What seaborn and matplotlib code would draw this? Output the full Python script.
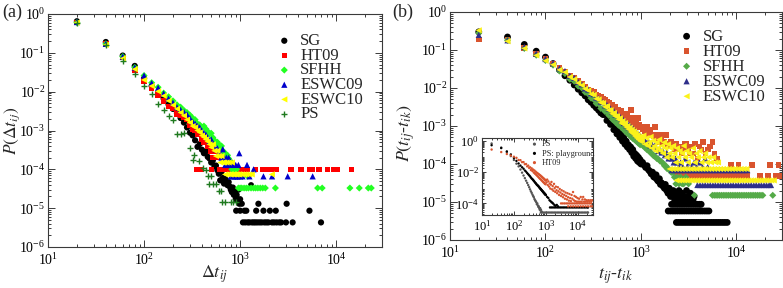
import matplotlib
matplotlib.use("Agg")
import matplotlib.pyplot as plt
import seaborn as sns
import pandas as pd
from matplotlib.ticker import LogLocator, NullFormatter, FixedLocator

nan = float("nan")

# ---------------- shared 20 s bin grid ----------------
G = [20, 40, 60, 80, 100, 120, 140, 160, 180, 200,
     220, 240, 260, 280, 300, 320, 340, 360, 380, 400,
     420, 440, 460, 480, 500, 520, 540, 560, 580, 600,
     620, 640, 660, 680, 700, 720, 740, 760, 780, 800,
     820, 840, 860, 880, 900, 920, 940, 960, 980, 1000]

# ---------------- panel (a): P(dt_ij) ----------------
a_sg_y = [0.65, 0.19, 0.085, 0.046, 0.022, 0.014, 0.0095, 0.0066, 0.0047, 0.0036,
          0.0028, 0.0021, 0.0016, 0.0012, 8.8e-4, 7.5e-4, 5.6e-4, 3.8e-4, 4.5e-4, 3.2e-4,
          2.6e-4, 2.9e-4, 2.1e-4, 1.9e-4, 1.5e-4, 1.7e-4, 1.2e-4, 1.25e-4, 9.5e-5, 7.7e-5,
          5.2e-5, 8.6e-5, 6.0e-5, 4.3e-5, 5.6e-5, 5.1e-5, 3.9e-5, 4.7e-5, 3.6e-5, 3.0e-5,
          2.6e-5, 3.4e-5, 2.2e-5, 2.6e-5, 1.7e-5, 2.2e-5, 1.7e-5, 3.0e-5, 1.3e-5, 1.7e-5]
a_sg_tail_x = [910, 1000, 1040, 1070, 1110, 1130, 1160, 1200, 1250, 1300, 1330, 1390,
               1450, 1470, 1520, 1550, 1600, 1680, 1750, 1790, 1880, 1970, 2040, 2150,
               2260, 2350, 2400, 2560, 2670, 3000, 3050, 3520, 5270, 6950]
a_sg_tail_y = [8.6e-6, 8.6e-6, 1.3e-5, 4.3e-6, 8.6e-6, 4.3e-6, 8.6e-6, 4.3e-6, 4.3e-6, 3.9e-5,
               4.3e-6, 4.3e-6, 4.3e-6, 8.6e-6, 4.3e-6, 1.3e-5, 4.3e-6, 4.3e-6, 8.6e-6, 4.3e-6,
               4.3e-6, 4.3e-6, 8.6e-6, 4.3e-6, 4.3e-6, 8.6e-6, 4.3e-6, 4.3e-6, 4.3e-6, 4.3e-6,
               1.3e-5, 4.3e-6, 8.6e-6, 4.3e-6]

a_ht_y = [0.60, 0.17, 0.075, 0.036, 0.019, 0.012, 0.0082, 0.0058, 0.0042, 0.0037,
          0.0027, 0.0025, 0.0022, 0.0020, 0.0014, 0.0011, 0.0010, 8e-4, 9e-4, 6e-4,
          5e-4, 6e-4, 4e-4, 4e-4, 3e-4, 2e-4, 3e-4, 2e-4, 3e-4, 2e-4,
          2e-4, 1e-4, 2e-4, 2e-4, 1e-4, nan, 2e-4, 1e-4, nan, 1e-4,
          nan, 1e-4, nan, nan, 1e-4, nan, nan, 1e-4, nan, nan]
a_ht_tail_x = [355, 395, 505, 610, 690, 990, 1020, 1160, 1200, 1440, 1720, 1850,
               2000, 2170, 2370, 3390, 4300, 5250, 5600, 6670, 8140, 9550, 10350, 14460]
a_ht_tail_y = [1e-4, 1e-4, 1e-4, 1e-4, 1e-4, 1e-4, 1e-4, 1e-4, 1e-4, 1e-4, 1e-4, 1e-4,
               1e-4, 1e-4, 1e-4, 1e-4, 1e-4, 1e-4, 1e-4, 1e-4, 1e-4, 1e-4, 1e-4, 1e-4]

a_sf_y = [0.60, 0.17, 0.080, 0.042, 0.026, 0.017, 0.013, 0.0092, 0.0074, 0.0058,
          0.0046, 0.0040, 0.0033, 0.0029, 0.0025, 0.0021, 0.0019, 0.0015, 0.0014, 0.0012,
          0.0013, 0.0011, 9.5e-4, 8.2e-4, 8.5e-4, 6.6e-4, 5.6e-4, 4.7e-4, 5.0e-4, 4.4e-4,
          3.6e-4, 4.0e-4, 3.0e-4, 2.6e-4, 2.6e-4, 2.0e-4, 2.3e-4, 1.9e-4, 1.7e-4, 1.3e-4,
          1.0e-4, 1.3e-4, 9.9e-5, 1.0e-4, 6.6e-5, 1.0e-4, 6.6e-5, 3.3e-5, 6.6e-5, 3.3e-5]
a_sf_tail_x = [1040, 1060, 1100, 1160, 1200, 1220, 1300, 1380, 1450, 1530, 1620, 1720,
               1830, 2330, 6410, 7150, 13900, 17400, 21600, 23200]
a_sf_tail_y = [3.3e-5, 6.6e-5, 3.3e-5, 3.3e-5, 6.6e-5, 3.3e-5, 3.3e-5, 3.3e-5, 3.3e-5, 3.3e-5,
               3.3e-5, 3.3e-5, 3.3e-5, 3.3e-5, 3.3e-5, 3.3e-5, 3.3e-5, 3.3e-5, 3.3e-5, 3.3e-5]

a_e9_y = [0.62, 0.17, 0.080, 0.042, 0.026, 0.0166, 0.0126, 0.0090, 0.0066, 0.0052,
          0.0040, 0.0034, 0.0030, 0.0026, 0.0021, 0.0017, 0.0015, 0.0013, 0.0012, 9.9e-4,
          8.6e-4, 7.9e-4, 6.6e-4, 5.3e-4, 5.9e-4, 4.6e-4, 4.0e-4, 3.3e-4, 3.5e-4, 2.6e-4,
          2.6e-4, 2.0e-4, 3.3e-4, 2.0e-4, 1.3e-4, 2.0e-4, 1.3e-4, 2.0e-4, 1.3e-4, 6.6e-5,
          1.3e-4, 6.6e-5, 1.3e-4, 6.6e-5, 1.3e-4, 6.6e-5, 6.6e-5, 1.3e-4, 2.6e-4, 6.6e-5]
a_e9_tail_x = [1060, 1180, 1250, 1380, 1750, 2150, 3130, 5690]
a_e9_tail_y = [6.6e-5, 1.3e-4, 6.6e-5, 1.0e-4, 6.6e-5, 6.6e-5, 6.6e-5, 6.6e-5]

a_e10_y = [0.60, 0.16, 0.072, 0.038, 0.020, 0.014, 0.0102, 0.0078, 0.0058, 0.0045,
           0.0036, 0.0029, 0.0024, 0.0019, 0.0016, 0.0013, 0.0012, 0.0010, 8.9e-4, 7.4e-4,
           6.7e-4, 5.9e-4, 5.2e-4, 4.4e-4, 3.7e-4, 4.4e-4, 3.0e-4, 2.2e-4, 3.0e-4, 2.2e-4,
           1.5e-4, 2.2e-4, 1.5e-4, 1.5e-4, 7.4e-5, 1.5e-4, 7.4e-5, 1.5e-4, 7.4e-5, 7.4e-5,
           1.5e-4, 7.4e-5, 7.4e-5, nan, 7.4e-5, 7.4e-5, nan, 7.4e-5, 7.4e-5, nan]
a_e10_tail_x = [1040, 1100, 1160, 1240, 1320, 2140]
a_e10_tail_y = [7.4e-5, 7.4e-5, 7.4e-5, 7.4e-5, 7.4e-5, 7.4e-5]

a_ps_x = [20, 40, 60, 80, 100, 120, 140, 160, 180, 200, 220, 240, 260, 300, 320, 330,
          370, 410, 440, 460, 480, 500, 520, 560, 600, 640, 650, 700, 800, 850, 910]
a_ps_y = [0.58, 0.16, 0.060, 0.028, 0.014, 0.0087, 0.0048, 0.0033, 0.0023, 0.0019,
          8.0e-4, 8.0e-4, 8.7e-4, 3.6e-4, 1.7e-4, 2.4e-4, 1.6e-4, 1.07e-4, 9.5e-5, 6.8e-5,
          4.2e-5, 6.8e-5, 4.2e-5, 4.2e-5, 2.8e-5, 2.8e-5, 1.4e-5, 1.4e-5, 1.4e-5, 1.4e-5, 1.4e-5]

# ---------------- panel (b): P(t_ij - t_ik) ----------------
b_sg_y = [0.30, 0.22, 0.14, 0.093, 0.065, 0.044, 0.030, 0.021, 0.016, 0.012,
          0.0093, 0.0075, 0.0062, 0.0049, 0.0042, 0.0035, 0.0030, 0.0026, 0.0022, 0.0020,
          0.0020, 0.0014, 0.0015, 0.0011, 0.0012, 8.0e-4, 9.5e-4, 6.2e-4, 7.4e-4, 5.0e-4,
          6.0e-4, 4.0e-4, 4.9e-4, 3.3e-4, 4.0e-4, 2.8e-4, 3.2e-4, 2.4e-4, 2.8e-4, 2.0e-4,
          2.4e-4, 1.6e-4, 1.9e-4, 1.4e-4, 1.7e-4, 1.2e-4, 1.5e-4, 1.1e-4, 1.3e-4, 1.0e-4]
b_sg_tail_x = [1040, 1080, 1120, 1160, 1200, 1240, 1280, 1320, 1360, 1400, 1440, 1480,
               1520, 1560, 1600, 1640, 1700, 1760, 1800, 1860, 1920, 1980, 2040, 2100,
               2180, 2250, 2320, 2400, 2500, 2600, 2700, 2850, 3000, 3150, 3300, 3600]
b_sg_tail_y = [1.1e-4, 9.3e-5, 8.1e-5, 9.0e-5, 7.0e-5, 6.4e-5, 5.5e-5, 6.1e-5, 4.6e-5, 4.4e-5,
               5.2e-5, 3.8e-5, 3.5e-5, 4.1e-5, 2.9e-5, 3.2e-5, 2.6e-5, 2.3e-5, 2.9e-5, 2.0e-5,
               1.7e-5, 2.3e-5, 1.4e-5, 1.7e-5, 2.0e-5, 1.4e-5, 1.7e-5, 1.4e-5, 2.0e-5, 1.4e-5,
               1.7e-5, 1.4e-5, 2.0e-5, 1.4e-5, 1.7e-5, 1.4e-5]
b_sg_levels = [2.9e-6, 5.8e-6, 8.7e-6, 1.16e-5]
b_sg_level_x = [
    [2350, 2480, 2620, 2760, 2910, 3070, 3240, 3420, 3600, 3800, 4000, 4220, 4450, 4700,
     4950, 5220, 5500, 5800, 6120, 6450, 6800, 7180, 7570, 8000],
    [1930, 2040, 2160, 2280, 2410, 2550, 2690, 2840, 3000, 3170, 3350, 3540, 3740, 3950,
     4170, 4400, 4650, 4900, 5150],
    [2090, 2210, 2340, 2470, 2610, 2760, 2920, 3090, 3270, 3460, 3660, 3870, 4090, 4270],
    [2250, 2400, 2560, 2730, 2910, 3100, 3300, 3520]]

b_ht_y = [0.19, 0.18, 0.115, 0.078, 0.057, 0.043, 0.033, 0.027, 0.021, 0.018,
          0.015, 0.0125, 0.011, 0.0092, 0.0085, 0.0078, 0.0068, 0.0062, 0.0060, 0.0052,
          0.0048, 0.0043, 0.0041, 0.0036, 0.0035, 0.0030, 0.0032, 0.0027, 0.0026, 0.0024,
          0.0025, 0.0021, 0.0019, 0.0021, 0.0017, 0.0018, 0.0016, 0.0015, 0.0026, 0.0013,
          0.0016, 0.0013, 0.0014, 0.0011, 0.0012, 0.0010, 0.0016, 0.0011, 9.1e-4, 9.6e-4]
b_ht_tail_x = [1050, 1100, 1150, 1200, 1250, 1300, 1350, 1400, 1450, 1500, 1560, 1620,
               1680, 1750, 1820, 1900, 1980, 2060, 2150, 2240, 2330, 2430, 2540, 2650,
               2760, 2880, 2980, 3100, 3250, 3400, 3550, 3700, 3900, 4100, 4300, 4500,
               4750, 5000, 5300, 5600, 5900, 6300]
b_ht_tail_y = [8.2e-4, 7.2e-4, 9.6e-4, 6.2e-4, 7.7e-4, 5.8e-4, 5.3e-4, 9.6e-4, 4.8e-4, 5.8e-4,
               3.8e-4, 4.8e-4, 5.8e-4, 3.8e-4, 5.8e-4, 3.4e-4, 2.9e-4, 3.8e-4, 2.9e-4, 2.4e-4,
               3.4e-4, 2.4e-4, 2.9e-4, 1.9e-4, 2.4e-4, 3.4e-4, 3.4e-4, 2.4e-4, 1.9e-4, 2.9e-4,
               1.9e-4, 3.4e-4, 1.4e-4, 2.9e-4, 2.4e-4, 3.8e-4, 1.9e-4, 2.4e-4, 2.9e-4, 3.8e-4,
               1.9e-4, 1.4e-4]
b_ht_levels = [4.8e-5, 9.6e-5]
b_ht_level_x = [
    [2350, 2500, 2660, 2830, 3010, 3200, 3400, 3620, 3850, 4100, 4360, 4640, 4930, 5250,
     5580, 5940, 6320, 6720, 7150, 7600, 8090, 8600, 9150, 9730, 10350, 11000, 11700,
     12450, 13000, 17700, 21300, 26000, 29000],
    [8700, 10500, 14500, 22400, 27500]]

b_sf_y = [0.28, 0.18, 0.11, 0.073, 0.053, 0.040, 0.028, 0.024, 0.017, 0.0150,
          0.0112, 0.0100, 0.0077, 0.0070, 0.0054, 0.0050, 0.0039, 0.0038, 0.0029, 0.0029,
          0.0024, 0.0023, 0.0019, 0.0019, 0.0015, 0.0016, 0.00125, 0.00125, 0.00105, 0.0011,
          9.2e-4, 9.4e-4, 7.9e-4, 8.2e-4, 6.8e-4, 7.2e-4, 6.0e-4, 6.4e-4, 5.3e-4, 5.7e-4,
          4.7e-4, 5.0e-4, 4.3e-4, 4.5e-4, 3.9e-4, 4.0e-4, 3.5e-4, 3.7e-4, 3.2e-4, 3.4e-4]
b_sf_tail_x = [1050, 1100, 1150, 1200, 1250, 1300, 1350, 1400, 1460, 1520, 1580, 1640,
               1700, 1760, 1820, 1880, 1940, 2000, 2080, 2160, 2240, 2320, 2400, 2500,
               2600, 2700, 2800, 2950, 3150, 3630]
b_sf_tail_y = [3.0e-4, 2.7e-4, 2.4e-4, 2.3e-4, 2.0e-4, 1.9e-4, 1.65e-4, 1.6e-4, 1.4e-4, 1.35e-4,
               1.2e-4, 1.15e-4, 1.05e-4, 9.0e-5, 9.0e-5, 7.5e-5, 7.5e-5, 7.0e-5, 6.0e-5, 6.0e-5,
               4.5e-5, 3.0e-5, 4.5e-5, 3.0e-5, 4.5e-5, 3.0e-5, 3.0e-5, 4.5e-5, 3.0e-5, 1.5e-5]
b_sf_levels = [1.5e-5]
b_sf_level_x = [
    [5600, 5850, 6110, 6380, 6660, 6960, 7270, 7590, 7930, 8280, 8650, 9030, 9430, 9850,
     10290, 10740, 11220, 11720, 12240, 12780, 13350, 13940, 14560, 15200, 15880, 16580,
     17320, 18090, 18890, 24000]]

b_e9_y = [0.25, 0.18, 0.12, 0.080, 0.058, 0.045, 0.033, 0.028, 0.021, 0.0185,
          0.0145, 0.0125, 0.0098, 0.0091, 0.0073, 0.0069, 0.0056, 0.0054, 0.0044, 0.0043,
          0.0035, 0.0036, 0.0029, 0.0029, 0.0024, 0.0025, 0.0020, 0.0021, 0.0017, 0.0018,
          0.0014, 0.0016, 0.0012, 0.0013, 0.00105, 0.0012, 9.3e-4, 1.05e-3, 8.2e-4, 9.2e-4,
          7.3e-4, 8.3e-4, 6.5e-4, 7.2e-4, 5.8e-4, 6.4e-4, 5.2e-4, 5.9e-4, 4.6e-4, 5.3e-4]
b_e9_tail_x = [1050, 1100, 1150, 1200, 1250, 1300, 1350, 1400, 1460, 1520, 1580, 1640,
               1700, 1780, 1860, 1940, 2020, 2100, 2200, 2300, 2400, 2500, 2600, 2750,
               2900, 3050, 3200, 3400, 3600, 3800, 4100, 4400, 4700, 5000]
b_e9_tail_y = [4.5e-4, 4.2e-4, 3.6e-4, 3.9e-4, 3.1e-4, 3.4e-4, 2.8e-4, 3.1e-4, 2.5e-4, 2.2e-4,
               2.5e-4, 2.0e-4, 2.2e-4, 1.7e-4, 2.0e-4, 1.4e-4, 1.7e-4, 1.4e-4, 1.1e-4, 1.4e-4,
               1.1e-4, 8.4e-5, 1.1e-4, 8.4e-5, 1.4e-4, 8.4e-5, 1.1e-4, 8.4e-5, 1.1e-4, 8.4e-5,
               1.1e-4, 8.4e-5, 1.4e-4, 8.4e-5]
b_e9_levels = [2.8e-5, 6.9e-5]
b_e9_level_x = [
    [3900, 4150, 4420, 4700, 5000, 5320, 5660, 6020, 6400, 6810, 7240, 7700, 8190, 8710,
     9260, 9850, 10480, 11150, 11860, 12610, 13410, 14260, 15170, 16130, 17160, 18250,
     19410, 20650, 21960, 23000],
    [2100, 2250, 2400, 2560, 2730, 2920, 3110, 3320, 3540, 3780, 4030, 4300, 4590, 4900,
     5230, 5580, 5950, 6350, 6780, 7230, 7720, 8240, 8790, 9380, 10010, 10680, 11400,
     12170, 13000]]

b_e10_y = [0.33, 0.17, 0.11, 0.072, 0.052, 0.041, 0.030, 0.026, 0.0195, 0.017,
           0.0135, 0.0118, 0.0095, 0.0086, 0.0069, 0.0066, 0.0052, 0.0050, 0.0041, 0.0040,
           0.0032, 0.0033, 0.0026, 0.0026, 0.0021, 0.0022, 0.0018, 0.0018, 0.0015, 0.0016,
           0.0012, 0.00135, 0.0011, 0.0012, 9.4e-4, 1.0e-3, 8.2e-4, 9.0e-4, 7.0e-4, 8.0e-4,
           6.3e-4, 7.2e-4, 5.5e-4, 6.4e-4, 4.9e-4, 5.7e-4, 4.4e-4, 5.2e-4, 4.0e-4, 4.8e-4]
b_e10_tail_x = [1020, 1060, 1100, 1140, 1180, 1220, 1260, 1300, 1340, 1380, 1420, 1460,
                1500, 1550, 1600, 1650, 1700, 1750, 1800, 1860, 1920, 1980, 2040, 2100,
                2170, 2240, 2310, 2380, 2460, 2540, 2620, 2700, 2800, 2900, 3000, 3100,
                3200, 3350, 3500, 3650, 3800, 3950, 4100, 4300, 4500, 4700, 4900, 5100,
                5400, 5700, 6000, 6400]
b_e10_tail_y = [4.1e-4, 5.6e-4, 3.3e-4, 4.8e-4, 3.0e-4, 3.7e-4, 5.2e-4, 2.6e-4, 4.1e-4, 3.0e-4,
                2.2e-4, 3.7e-4, 2.6e-4, 4.4e-4, 2.2e-4, 3.0e-4, 1.9e-4, 3.7e-4, 2.6e-4, 1.5e-4,
                3.3e-4, 1.9e-4, 2.6e-4, 1.5e-4, 3.0e-4, 1.9e-4, 1.1e-4, 2.6e-4, 1.5e-4, 2.2e-4,
                1.1e-4, 1.9e-4, 3.0e-4, 1.5e-4, 2.2e-4, 1.1e-4, 1.9e-4, 1.5e-4, 2.6e-4, 1.1e-4,
                1.9e-4, 1.5e-4, 2.2e-4, 1.1e-4, 1.5e-4, 1.9e-4, 1.1e-4, 1.5e-4, 1.1e-4, 1.5e-4,
                1.1e-4, 1.1e-4]
b_e10_levels = [3.7e-5, 7.4e-5]
b_e10_level_x = [
    [2350, 2500, 2660, 2830, 3010, 3200, 3400, 3620, 3850, 4100, 4360, 4640, 4930, 5250,
     5580, 5940, 6320, 6720, 7150, 7600, 8090, 8600, 9150, 9730, 10350, 11000, 11700,
     12450, 13250, 14100, 15000, 15950, 16970, 18050, 19200, 20420, 21720, 23100, 24570],
    [2000, 2150, 2310, 2480, 2660, 2860, 3070, 3300, 3540, 3800, 4080, 4380, 4700, 5050,
     5420, 5820, 6250, 6710, 7200, 7730, 8300, 8910, 9570, 10280, 11040, 11860, 12740]]

# ---------------- inset of panel (b) ----------------
in_ps_y = [0.71, 0.39, 0.20, 0.11, 0.062, 0.036, 0.024, 0.015, 0.0095, 0.0062,
           0.0042, 0.0029, 0.0021, 0.0015, 0.0011, 8.0e-4, 6.0e-4, 4.8e-4, 3.7e-4, 3.0e-4,
           2.5e-4, 1.9e-4, 1.6e-4, 1.4e-4, 1.2e-4, 9.0e-5, 1.0e-4, 7.5e-5, 6.0e-5, 6.5e-5,
           5.0e-5, 4.0e-5, 5.0e-5, 3.5e-5, 4.0e-5, nan, 3.0e-5, nan, nan, nan,
           nan, nan, nan, nan, nan, nan, nan, nan, nan, nan]
in_ps_levels = [2.6e-5]
in_ps_level_x = [[700, 780, 870, 970, 1080, 1200, 1340, 1490, 1660, 1850, 2060, 2300, 2560,
                  2850, 3170, 3530, 3930, 4380, 4880, 5430, 6050, 6740, 7500, 8350, 9300,
                  10360, 11540, 12850, 14310, 15940, 17750, 19770, 21000]]

in_pg_y = [0.55, 0.36, 0.22, 0.14, 0.084, 0.054, 0.037, 0.027, 0.021, 0.017,
           0.013, 0.011, 0.0089, 0.0075, 0.0064, 0.0055, 0.0046, 0.0040, 0.0036, 0.0032,
           0.0028, 0.0025, 0.0022, 0.0020, 0.0018, 0.0016, 0.0015, 0.0014, 0.0013, 0.0012,
           0.0011, 1.0e-3, 9.3e-4, 8.7e-4, 8.1e-4, 7.6e-4, 7.1e-4, 6.6e-4, 6.2e-4, 5.9e-4,
           5.5e-4, 5.2e-4, 4.9e-4, 4.6e-4, 4.4e-4, 4.2e-4, 4.0e-4, 3.8e-4, 3.6e-4, 3.4e-4]
in_pg_tail_x = [1100, 1200, 1300, 1400, 1500, 1600, 1700, 1850, 2000, 2200, 2400]
in_pg_tail_y = [2.6e-4, 2.2e-4, 1.6e-4, 1.4e-4, 1.2e-4, 1.1e-4, 9.6e-5, 8.0e-5, 7.0e-5, 8.0e-5, 6.5e-5]
in_pg_levels = [5.5e-5]
in_pg_level_x = [[1350, 1500, 1670, 1860, 2070, 2310, 2570, 2860, 3190, 3550, 3950, 4400,
                  4900, 5460, 6080, 6770, 7540, 8400, 9350, 10410, 11590, 12910, 14380,
                  16010, 17830, 19860, 21000]]

in_ht_y = [0.29, 0.20, 0.15, 0.12, 0.10, 0.085, 0.062, 0.060, 0.045, 0.045,
           0.033, 0.034, 0.024, 0.027, 0.019, 0.021, 0.014, 0.018, 0.012, 0.015,
           0.0095, 0.013, 0.0080, 0.011, 0.0068, 0.0095, 0.0058, 0.0085, 0.0050, 0.0076,
           0.0043, 0.0068, 0.0038, 0.0062, 0.0034, 0.0055, 0.0030, 0.0050, 0.0027, 0.0045,
           0.0024, 0.0041, 0.0022, 0.0038, 0.0020, 0.0034, 0.0018, 0.0032, 0.0017, 0.0029]
in_ht_tail_x = [1050, 1100, 1150, 1200, 1260, 1320, 1380, 1440, 1500, 1570, 1640, 1720,
                1800, 1880, 1970, 2060, 2160, 2260, 2370, 2480, 2600, 2720, 2850, 2990,
                3130, 3280, 3440, 3600, 3770, 3950, 4140, 4340, 4550, 4770, 5000, 5250,
                5500, 5800, 6100, 6400, 6750, 7100, 7500, 7900, 8300, 8800, 9300, 9800,
                10400, 11000, 11700, 12400, 13200, 14000, 14800, 15700, 16700, 17800,
                19000, 20300, 21700, 23200, 24800, 26500, 28500]
in_ht_tail_y = [2.2e-3, 3.4e-3, 1.5e-3, 2.6e-3, 1.2e-3, 1.9e-3, 9.0e-4, 1.6e-3, 2.4e-3, 8.0e-4,
                1.3e-3, 6.5e-4, 1.8e-3, 9.5e-4, 5.5e-4, 1.2e-3, 7.0e-4, 4.5e-4, 1.1e-3, 6.0e-4,
                3.5e-4, 8.5e-4, 5.0e-4, 3.0e-4, 7.0e-4, 4.0e-4, 2.5e-4, 6.0e-4, 3.5e-4, 2.0e-4,
                5.0e-4, 3.0e-4, 1.8e-4, 4.5e-4, 2.5e-4, 1.5e-4, 4.0e-4, 2.2e-4, 1.4e-4, 3.5e-4,
                2.0e-4, 5.4e-4, 1.6e-4, 3.0e-4, 1.4e-4, 2.6e-4, 1.3e-4, 2.2e-4, 1.3e-4, 2.0e-4,
                1.3e-4, 2.6e-4, 1.3e-4, 1.8e-4, 2.6e-4, 1.3e-4, 1.8e-4, 1.3e-4, 1.6e-4, 1.3e-4,
                1.6e-4, 1.3e-4, 1.6e-4, 1.3e-4, 1.6e-4]
in_ht_levels = [1.0e-4, 6.5e-5]
in_ht_level_x = [
    [3000, 3400, 3850, 4350, 4900, 5500, 6200, 7000, 7900, 8900, 10000, 11300, 12700,
     14300, 16100, 18100, 20400, 23000, 26000],
    [5000, 6000, 7200, 8600, 10300, 12300, 14700, 17600, 21000, 25000, 28500]]


def frame(grid_y=None, xs=None, ys=None, tail_x=(), tail_y=(), levels=(), level_x=()):
    px, py = [], []
    if grid_y is not None:
        for a, b in zip(G, grid_y):
            px.append(a); py.append(b)
    if xs is not None:
        for a, b in zip(xs, ys):
            px.append(a); py.append(b)
    for a, b in zip(tail_x, tail_y):
        px.append(a); py.append(b)
    for lev, lx in zip(levels, level_x):
        for a in lx:
            px.append(a); py.append(lev)
    return pd.DataFrame({"x": px, "y": py}).dropna()


# ---------------- style ----------------
sns.set_style("ticks")
plt.rcParams["font.family"] = ["Liberation Serif", "DejaVu Serif"]
plt.rcParams["mathtext.fontset"] = "stix"
plt.rcParams["axes.linewidth"] = 0.8
EDGE = "#3a3a3a"

fig = plt.figure(figsize=(7.83, 2.88), dpi=100)
ax_a = fig.add_axes([48 / 783, 41 / 288, 334 / 783, 233 / 288])
ax_b = fig.add_axes([450 / 783, 48 / 288, 332 / 783, 228 / 288])
ax_in = fig.add_axes([482 / 783, 73 / 288, 111 / 783, 77 / 288])


def style_axis(ax, xlim, ylim, tick_fs, major_len=5, minor_len=2.5, pad=2, xpad=4):
    ax.set_xscale("log")
    ax.set_yscale("log")
    ax.set_xlim(*xlim)
    ax.set_ylim(*ylim)
    ax.xaxis.set_major_locator(LogLocator(base=10, numticks=20))
    ax.yaxis.set_major_locator(LogLocator(base=10, numticks=20))
    ax.xaxis.set_minor_locator(LogLocator(base=10, subs=[2, 3, 4, 5, 6, 7, 8, 9], numticks=20))
    ax.yaxis.set_minor_locator(LogLocator(base=10, subs=[2, 3, 4, 5, 6, 7, 8, 9], numticks=20))
    ax.xaxis.set_minor_formatter(NullFormatter())
    ax.yaxis.set_minor_formatter(NullFormatter())
    ax.tick_params(which="both", direction="in", top=True, right=True, colors=EDGE,
                   labelcolor="black", labelsize=tick_fs, width=0.7)
    ax.tick_params(axis="y", which="both", pad=pad)
    ax.tick_params(axis="x", which="both", pad=xpad)
    ax.tick_params(which="major", length=major_len)
    ax.tick_params(which="minor", length=minor_len)
    for sp in ax.spines.values():
        sp.set_color(EDGE)
        sp.set_linewidth(0.8)


def draw(ax, df, marker, color, s, label, lw=0.0):
    if marker in ("+", "x", "."):
        sns.scatterplot(data=df, x="x", y="y", ax=ax, marker=marker, color=color, s=s,
                        linewidth=lw, label=label, legend=False)
    else:
        sns.scatterplot(data=df, x="x", y="y", ax=ax, marker=marker, color=color, s=s,
                        edgecolor="none", linewidth=0, label=label, legend=False)


# ---------------- panel (a) ----------------
draw(ax_a, frame(a_sg_y, tail_x=a_sg_tail_x, tail_y=a_sg_tail_y), "o", "black", 20, "SG")
draw(ax_a, frame(a_ht_y, tail_x=a_ht_tail_x, tail_y=a_ht_tail_y), "s", "#ff0000", 16, "HT09")
draw(ax_a, frame(a_sf_y, tail_x=a_sf_tail_x, tail_y=a_sf_tail_y), "D", "#22ff22", 13, "SFHH")
draw(ax_a, frame(a_e9_y, tail_x=a_e9_tail_x, tail_y=a_e9_tail_y), "^", "#0000cc", 20, "ESWC09")
draw(ax_a, frame(a_e10_y, tail_x=a_e10_tail_x, tail_y=a_e10_tail_y), "<", "#ffff00", 20, "ESWC10")
draw(ax_a, frame(xs=a_ps_x, ys=a_ps_y), "+", "#1f7a1f", 16, "PS", lw=1.0)
style_axis(ax_a, (10, 3e4), (1e-6, 1), 10)
ax_a.set_xlabel(r"$\Delta t_{ij}$", fontsize=13)
ax_a.xaxis.set_label_coords(0.5, -0.07)
ax_a.set_ylabel(r"$P(\Delta t_{ij})$", fontsize=12.5)
ax_a.yaxis.set_label_coords(-0.078, 0.5)
ax_a.legend(loc="upper left", bbox_to_anchor=(0.685, 0.918), frameon=False, fontsize=12,
            handlelength=0.9, handletextpad=0.5, labelspacing=-0.08, borderpad=0,
            borderaxespad=0)

# ---------------- panel (b) ----------------
draw(ax_b, frame(b_sg_y, tail_x=b_sg_tail_x, tail_y=b_sg_tail_y,
                 levels=b_sg_levels, level_x=b_sg_level_x), "o", "black", 24, "SG")
draw(ax_b, frame(b_ht_y, tail_x=b_ht_tail_x, tail_y=b_ht_tail_y,
                 levels=b_ht_levels, level_x=b_ht_level_x), "s", "#d9542e", 17, "HT09")
draw(ax_b, frame(b_sf_y, tail_x=b_sf_tail_x, tail_y=b_sf_tail_y,
                 levels=b_sf_levels, level_x=b_sf_level_x), "D", "#55aa48", 13, "SFHH")
draw(ax_b, frame(b_e9_y, tail_x=b_e9_tail_x, tail_y=b_e9_tail_y,
                 levels=b_e9_levels, level_x=b_e9_level_x), "^", "#2e2e8a", 20, "ESWC09")
draw(ax_b, frame(b_e10_y, tail_x=b_e10_tail_x, tail_y=b_e10_tail_y,
                 levels=b_e10_levels, level_x=b_e10_level_x), "<", "#fbf21a", 20, "ESWC10")
style_axis(ax_b, (10, 3e4), (1e-6, 1), 10)
ax_b.set_xlabel(r"$t_{ij}$-$t_{ik}$", fontsize=13)
ax_b.xaxis.set_label_coords(0.5, -0.115)
ax_b.set_ylabel(r"$P(t_{ij}$-$t_{ik})$", fontsize=13)
ax_b.yaxis.set_label_coords(-0.1, 0.47)
ax_b.legend(loc="upper left", bbox_to_anchor=(0.69, 0.927), frameon=False, fontsize=12,
            handlelength=0.9, handletextpad=0.5, labelspacing=-0.06, borderpad=0,
            borderaxespad=0)

# ---------------- inset ----------------
draw(ax_in, frame(in_ps_y, levels=in_ps_levels, level_x=in_ps_level_x), "o", "#555555", 3, "PS")
draw(ax_in, frame(in_pg_y, tail_x=in_pg_tail_x, tail_y=in_pg_tail_y,
                  levels=in_pg_levels, level_x=in_pg_level_x), "o", "black", 3, "PS: playground")
draw(ax_in, frame(in_ht_y, tail_x=in_ht_tail_x, tail_y=in_ht_tail_y,
                  levels=in_ht_levels, level_x=in_ht_level_x), "o", "#d9542e", 3, "HT09")
style_axis(ax_in, (10, 3e4), (1.8e-5, 1.6), 9, major_len=3, minor_len=1.5, pad=2, xpad=3)
ax_in.yaxis.set_major_locator(FixedLocator([1e0, 1e-2, 1e-4]))
ax_in.set_xlabel("")
ax_in.set_ylabel("")
ax_in.set_facecolor("white")
ax_in.legend(loc="upper left", bbox_to_anchor=(0.45, 0.97), frameon=False, fontsize=6,
             handlelength=0.6, handletextpad=0.6, labelspacing=0.15, borderpad=0,
             borderaxespad=0, markerscale=1.3)

fig.text(2 / 783, 1 - 12 / 288, "(a)", fontsize=13, va="center", ha="left")
fig.text(392 / 783, 1 - 12 / 288, "(b)", fontsize=13, va="center", ha="left")

fig.savefig("out.png", dpi=100)
